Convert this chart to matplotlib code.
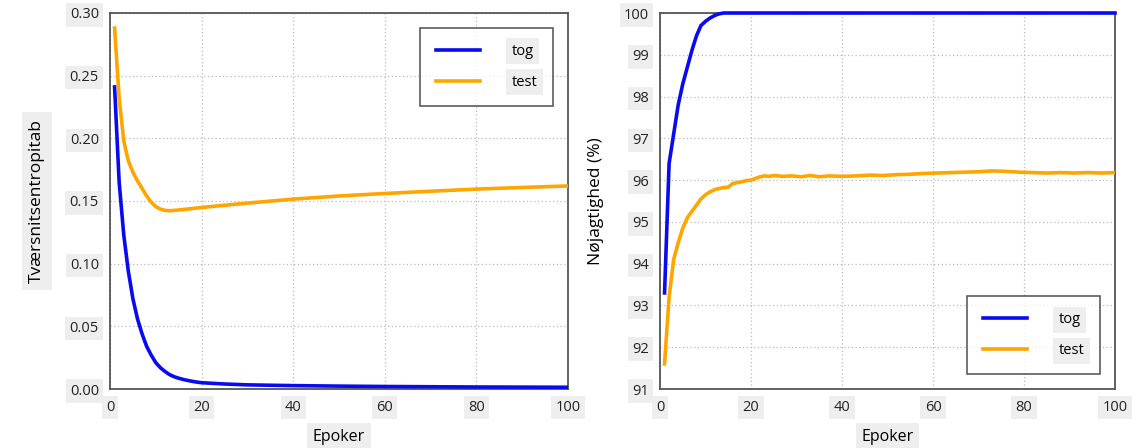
import matplotlib
matplotlib.use("Agg")
import matplotlib.pyplot as plt

# ---- data ----
epochs_loss_train = [1, 2, 3, 4, 5, 6, 7, 8, 9, 10, 11, 12, 13, 14, 15, 16, 17, 18, 19, 20,
                     25, 30, 40, 50, 60, 70, 80, 90, 100]
loss_train = [0.241, 0.165, 0.123, 0.094, 0.072, 0.056, 0.044, 0.034, 0.027, 0.021,
              0.017, 0.014, 0.0115, 0.0098, 0.0086, 0.0076, 0.0068, 0.0061, 0.0055, 0.0050,
              0.0040, 0.0033, 0.0027, 0.0023, 0.0020, 0.0018, 0.0016, 0.0015, 0.0014]

epochs_loss_test = [1, 2, 3, 4, 5, 6, 7, 8, 9, 10, 11, 12, 13, 14, 16, 18, 20,
                    25, 30, 40, 50, 60, 70, 80, 90, 100]
loss_test = [0.288, 0.232, 0.198, 0.182, 0.173, 0.166, 0.160, 0.154, 0.149, 0.1455,
             0.1435, 0.1425, 0.1422, 0.1425, 0.1432, 0.1440, 0.1448,
             0.1466, 0.1483, 0.1515, 0.1540, 0.1560, 0.1578, 0.1595, 0.1608, 0.1620]

epochs_acc_train = [1, 2, 3, 4, 5, 6, 7, 8, 9, 10, 11, 12, 13, 14, 15, 20, 40, 60, 80, 100]
acc_train = [93.3, 96.4, 97.1, 97.8, 98.3, 98.7, 99.1, 99.45, 99.7, 99.8,
             99.88, 99.94, 99.98, 100.0, 100.0, 100.0, 100.0, 100.0, 100.0, 100.0]

epochs_acc_test = [1, 2, 3, 4, 5, 6, 7, 8, 9, 10, 11, 12, 13, 14, 15, 16, 17, 18, 19, 20,
                   21, 22, 23, 24, 25, 27, 29, 31, 33, 35, 37, 40, 43, 46, 49, 52, 55,
                   58, 61, 64, 67, 70, 73, 76, 79, 82, 85, 88, 91, 94, 97, 100]
acc_test = [91.6, 93.2, 94.1, 94.5, 94.85, 95.1, 95.25, 95.4, 95.55, 95.65,
            95.72, 95.77, 95.8, 95.82, 95.83, 95.92, 95.94, 95.96, 95.99, 96.0,
            96.04, 96.08, 96.1, 96.09, 96.11, 96.09, 96.1, 96.08, 96.11, 96.08, 96.1,
            96.09, 96.1, 96.12, 96.11, 96.13, 96.14, 96.16, 96.17, 96.18, 96.19,
            96.2, 96.22, 96.21, 96.19, 96.18, 96.17, 96.18, 96.17, 96.18, 96.17, 96.18]

x_ticks = [0, 20, 40, 60, 80, 100]
loss_ticks = [0.00, 0.05, 0.10, 0.15, 0.20, 0.25, 0.30]
acc_ticks = [91, 92, 93, 94, 95, 96, 97, 98, 99, 100]

label_train = "tog"
label_test = "test"
xlabel = "Epoker"
ylabel_loss = "Tværsnitsentropitab"
ylabel_acc = "Nøjagtighed (%)"

# ---- style ----
plt.rcParams['font.family'] = ['Open Sans', 'DejaVu Sans']
BLUE = "#0a0af0"
ORANGE = "#ffa500"
BOX = dict(facecolor="#eeeeee", edgecolor="none", pad=3)

fig = plt.figure(figsize=(11.45, 4.48), dpi=100)
ax1 = fig.add_axes([110 / 1145, 1 - 389 / 448, (568 - 110) / 1145, (389 - 13) / 448])
ax2 = fig.add_axes([660 / 1145, 1 - 389 / 448, (1115 - 660) / 1145, (389 - 13) / 448])


def style(ax, yticks, fmt):
    ax.set_xlim(0, 100)
    ax.set_xticks(x_ticks)
    ax.set_yticks(yticks)
    ax.set_xticklabels([str(t) for t in x_ticks])
    ax.set_yticklabels([fmt(t) for t in yticks])
    ax.grid(True, linestyle=(0, (1, 2)), color="#bbbbbb", linewidth=0.9)
    for s in ax.spines.values():
        s.set_color("#555555")
        s.set_linewidth(1.3)
    ax.tick_params(length=0, labelsize=10.5, colors="#222222", pad=8)
    for t in ax.get_xticklabels() + ax.get_yticklabels():
        t.set_bbox(BOX)
    ax.set_xlabel(xlabel, fontsize=11.5, labelpad=10,
                  bbox=dict(facecolor="#eeeeee", edgecolor="none", pad=4))


def legend(ax, loc):
    leg = ax.legend(loc=loc, frameon=True, fancybox=False, edgecolor="#333333",
                    fontsize=10.5, borderpad=1.1, labelspacing=1.1, handlelength=3.0,
                    handletextpad=2.2, borderaxespad=1.0)
    leg.get_frame().set_linewidth(1.2)
    for t in leg.get_texts():
        t.set_bbox(dict(facecolor="#eeeeee", edgecolor="none", pad=4))
    return leg


# Left: loss
ax1.plot(epochs_loss_train, loss_train, color=BLUE, lw=2.6, label=label_train, zorder=3)
ax1.plot(epochs_loss_test, loss_test, color=ORANGE, lw=2.6, label=label_test, zorder=3)
ax1.set_ylim(0, 0.30)
style(ax1, loss_ticks, lambda v: f"{v:.2f}")
ax1.set_ylabel(ylabel_loss, fontsize=12.5, labelpad=18,
               bbox=dict(facecolor="#eeeeee", edgecolor="none", pad=5))
legend(ax1, "upper right")

# Right: accuracy
ax2.plot(epochs_acc_train, acc_train, color=BLUE, lw=2.6, label=label_train, zorder=3, clip_on=False)
ax2.plot(epochs_acc_test, acc_test, color=ORANGE, lw=2.6, label=label_test, zorder=3)
ax2.set_ylim(91, 100)
style(ax2, acc_ticks, lambda v: f"{v:d}")
ax2.set_ylabel(ylabel_acc, fontsize=12.5, labelpad=14)
legend(ax2, "lower right")

fig.savefig("out.png", dpi=100)
